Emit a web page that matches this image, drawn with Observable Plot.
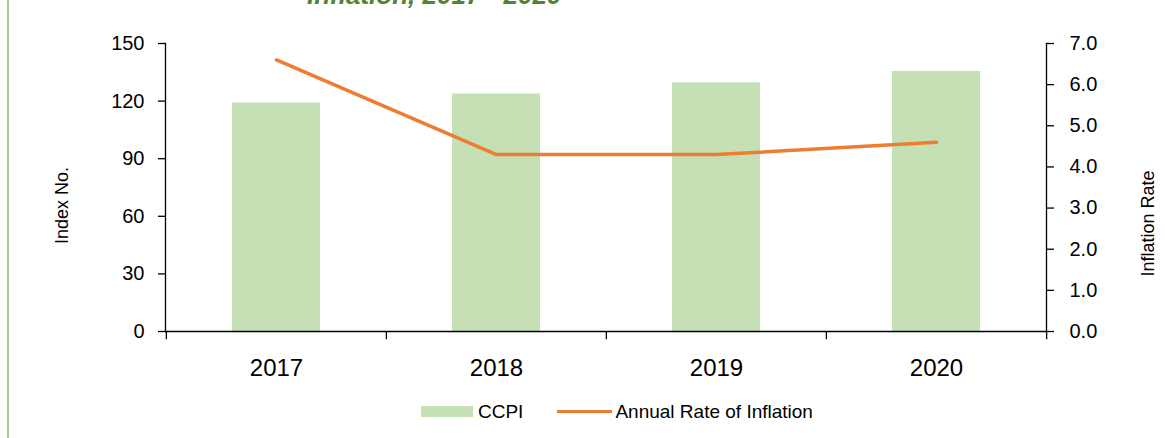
<!DOCTYPE html>
<html>
<head>
<meta charset="utf-8">
<script src="https://cdn.jsdelivr.net/npm/d3@7"></script>
<script src="https://cdn.jsdelivr.net/npm/@observablehq/plot@0.6"></script>
<style>
  html, body { margin: 0; padding: 0; background: #fff; }
  body { width: 1173px; height: 438px; overflow: hidden; position: relative; font-family: "Liberation Sans", Arial, sans-serif; }
  #border { position: absolute; left: 7px; top: 0; width: 2px; height: 438px; background: #a9d18e; }
  #title { position: absolute; left: 307px; top: -18px; font-size: 26px; line-height: 26px; font-weight: bold; font-style: italic; color: #538135; white-space: nowrap; }
  #chart { position: absolute; left: 0; top: 0; }
  #legend { position: absolute; left: 0; top: 395px; width: 1173px; height: 43px; display: flex; align-items: center; padding-left: 421px; box-sizing: border-box; font-size: 19px; color: #000; margin-top: -5px; }
  .sw-bar { width: 52px; height: 11px; background: #c5e0b4; margin-right: 5px; }
  .sw-line { width: 55px; height: 3.5px; background: #ed7d31; margin-left: 34px; margin-right: 3px; }
</style>
</head>
<body>
<div id="border"></div>
<div id="title">Inflation, 2017 - 2020</div>
<div id="chart"></div>
<div id="legend">
  <div class="sw-bar"></div><span>CCPI</span>
  <div class="sw-line"></div><span>Annual Rate of Inflation</span>
</div>
<script>
const years = ["2017", "2018", "2019", "2020"];
const ccpi = [119.0, 123.7, 129.5, 135.4];
const inflation = [6.6, 4.3, 4.3, 4.6];
const leftTicks = [0, 30, 60, 90, 120, 150];
const rightTicks = [0, 1, 2, 3, 4, 5, 6, 7];
const leftMax = 150, rightMax = 7;
const toLeft = v => v * leftMax / rightMax;

const data = years.map((y, i) => ({year: y, ccpi: ccpi[i], rate: inflation[i]}));

const W = 1173, H = 395, mL = 165, mR = 127, mT = 43, mB = 64;
const step = (W - mL - mR) / years.length;

const plot = Plot.plot({
  width: W, height: H,
  marginLeft: mL, marginRight: mR, marginTop: mT, marginBottom: mB,
  style: {fontFamily: "Liberation Sans, Arial, sans-serif", color: "#000", background: "transparent"},
  x: {domain: years, paddingInner: 0.6, paddingOuter: 0.3, axis: null},
  y: {domain: [0, leftMax], axis: null},
  marks: [
    Plot.barY(data, {x: "year", y: "ccpi", fill: "#c5e0b4"}),
    Plot.lineY(data, {x: "year", y: d => toLeft(d.rate), stroke: "#ed7d31", strokeWidth: 3.5}),
    // x axis baseline
    Plot.ruleY([0], {stroke: "#000", strokeWidth: 1.3}),
    // vertical axis lines
    Plot.frame({anchor: "left", stroke: "#000", strokeWidth: 1.3}),
    Plot.frame({anchor: "right", stroke: "#000", strokeWidth: 1.3}),
    // x boundary ticks
    Plot.ruleX(years, {x: d => d, dx: -step / 2, y1: 0, y2: -4.3, stroke: "#000", strokeWidth: 1.3}),
    Plot.ruleX([years[years.length - 1]], {x: d => d, dx: step / 2, y1: 0, y2: -4.3, stroke: "#000", strokeWidth: 1.3}),
    Plot.axisX({anchor: "bottom", tickSize: 0, tickPadding: 27, fontSize: 24, label: null}),
    Plot.axisY(leftTicks, {anchor: "left", tickSize: 7, tickPadding: 14, fontSize: 20, label: null, strokeWidth: 1.3}),
    Plot.axisY(rightTicks.map(toLeft), {anchor: "right", tickSize: 7, tickPadding: 16, fontSize: 20, label: null, strokeWidth: 1.3,
      tickFormat: d => (d * rightMax / leftMax).toFixed(1)}),
    Plot.text(["Index No."], {frameAnchor: "left", textAnchor: "middle", dx: -103, dy: 18, rotate: -90, fontSize: 18, text: d => d}),
    Plot.text(["Inflation Rate"], {frameAnchor: "right", textAnchor: "middle", dx: 102, dy: 36, rotate: -90, fontSize: 18, text: d => d})
  ]
});
document.getElementById("chart").appendChild(plot);
</script>
</body>
</html>
